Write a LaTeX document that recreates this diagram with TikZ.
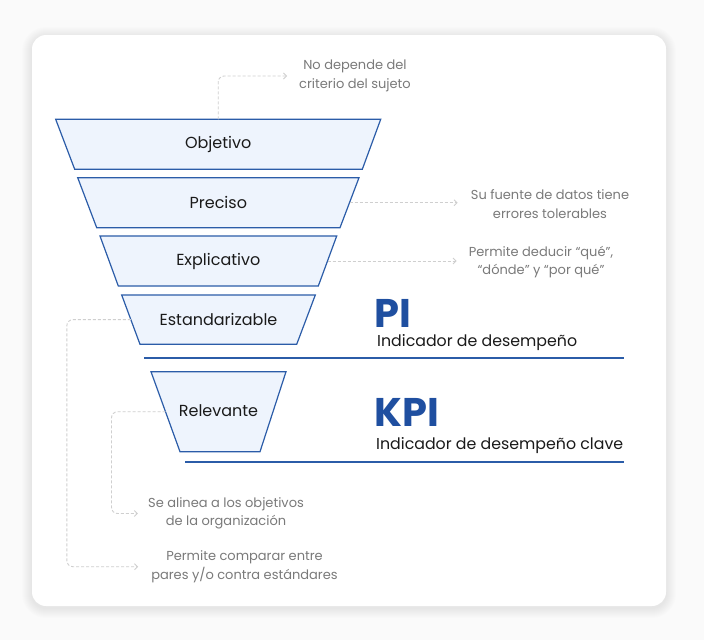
\documentclass[tikz,border=0pt]{standalone}
\usepackage{fontspec}
\setmainfont{Poppins}
\usetikzlibrary{calc,arrows.meta}
\definecolor{bgc}{HTML}{FAFAFA}
\definecolor{bluefill}{HTML}{EEF4FD}
\definecolor{bluedraw}{HTML}{2B5CA8}
\definecolor{bluetext}{HTML}{1F4FA0}
\definecolor{graytext}{HTML}{7A7A7A}
\definecolor{grayline}{HTML}{CFCFCF}
\definecolor{labeltext}{HTML}{1A1A1A}
\tikzset{
  funnelbox/.style={draw=bluedraw, fill=bluefill, line width=1.2pt, line join=miter},
  funnellabel/.style={inner sep=0pt, text=labeltext, font=\fontsize{16}{18}\selectfont},
  note/.style={align=center, text=graytext, font=\fontsize{13}{18.5}\selectfont, inner sep=0pt},
  conn/.style={draw=grayline, line width=0.9pt, dash pattern=on 3pt off 2pt,
    rounded corners=6pt, -{Straight Barb[length=3pt,width=6pt]}},
  sepline/.style={draw=bluedraw, line width=2.2pt},
  bigtag/.style={text=bluetext, font=\fontsize{40}{42}\selectfont\bfseries, inner sep=0pt, anchor=base west, text depth=0pt},
  subtag/.style={text=labeltext, font=\fontsize{15.8}{18}\selectfont, inner sep=0pt, anchor=base west, text height=11pt}
}
\begin{document}
\begin{tikzpicture}[x=1pt,y=-1pt]
\useasboundingbox (0,0) rectangle (704,640);
\fill[bgc] (0,0) rectangle (704,640);
% shadow
\foreach \i in {1,...,10}{
  \fill[black, opacity=0.006, rounded corners={14pt+\i pt}] (32-\i,35-\i+2) rectangle (666+\i,606+\i+2);
}
\fill[white, rounded corners=14pt] (32,35) rectangle (666,606);

% funnel levels
\draw[funnelbox] (55.7,119.3) coordinate (objTL) -- (380.7,119.3) coordinate (objTR)
  -- (362.3,169.3) coordinate (objBR) -- (74.7,169.3) coordinate (objBL) -- cycle;
\draw[funnelbox] (77.7,177.7) coordinate (preTL) -- (359,177.7) coordinate (preTR)
  -- (340,227.7) coordinate (preBR) -- (96.7,227.7) coordinate (preBL) -- cycle;
\draw[funnelbox] (100,236) coordinate (expTL) -- (336.7,236) coordinate (expTR)
  -- (318.3,286) coordinate (expBR) -- (118.3,286) coordinate (expBL) -- cycle;
\draw[funnelbox] (121.7,295) coordinate (estTL) -- (315.3,295) coordinate (estTR)
  -- (296.7,344.3) coordinate (estBR) -- (140,344.3) coordinate (estBL) -- cycle;
\draw[funnelbox] (151,371.7) coordinate (relTL) -- (286,371.7) coordinate (relTR)
  -- (260,451.7) coordinate (relBR) -- (180,451.7) coordinate (relBL) -- cycle;

\node[funnellabel] (obj) at (218.2,144) {Objetivo};
\node[funnellabel] (pre) at (218.3,202.5) {Preciso};
\node[funnellabel] (exp) at (218.3,261) {Explicativo};
\node[funnellabel] (est) at (218.5,319.5) {Estandarizable};
\node[funnellabel] (rel) at (218.5,411) {Relevante};

% connector anchors on the funnel edges
\coordinate (objN) at ($(objTL)!0.5!(objTR)$);
\coordinate (preE) at ($(preTR)!0.5!(preBR)$);
\coordinate (expE) at ($(expTR)!0.5!(expBR)$);
\coordinate (estW) at ($(estTL)!0.5!(estBL)$);
\coordinate (relW) at ($(relTL)!0.5!(relBL)$);

% separator lines
\coordinate (pia) at (144,358.3);
\coordinate (pib) at (624,358.3);
\coordinate (kpa) at (185,461.7);
\coordinate (kpb) at (624,461.7);
\draw[sepline] (pia) -- (pib);
\draw[sepline] (kpa) -- (kpb);

% PI / KPI
\node[bigtag] (pi) at (374,327) {PI};
\node[subtag] (pisub) at (377,346.7) {Indicador de desempeño};
\node[bigtag] (kpi) at (374,426.5) {KPI};
\node[subtag] (kpisub) at (376,449.3) {Indicador de desempeño clave};

% notes
\node[note] (n1) at (355,76) {No depende del\\criterio del sujeto};
\node[note] (n2) at (550,204) {Su fuente de datos tiene\\errores tolerables};
\node[note] (n3) at (541,262) {Permite deducir “qué”,\\“dónde” y “por qué”};
\node[note] (n4) at (226,513.5) {Se alinea a los objetivos\\de la organización};
\node[note] (n5) at (244.5,566.7) {Permite comparar entre\\pares y/o contra estándares};

% connectors
\draw[conn] (objN) |- ([xshift=-12pt]n1.west);
\draw[conn] (preE) -- ([xshift=-13pt]n2.west |- preE);
\draw[conn] (expE) -- ([xshift=-12pt]n3.west |- expE);
\draw[conn] (relW) -- ++(-54,0) |- ([xshift=-10pt]n4.west);
\draw[conn] (estW) -- ++(-64,0) |- ([xshift=-13pt]n5.west);
\end{tikzpicture}
\end{document}
